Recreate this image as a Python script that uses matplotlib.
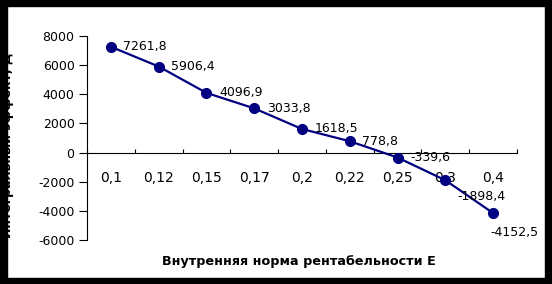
import matplotlib
matplotlib.use("Agg")
import matplotlib.pyplot as plt
from matplotlib.patches import Rectangle
import numpy as np

categories = ["0,1", "0,12", "0,15", "0,17", "0,2", "0,22", "0,25", "0,3", "0,4"]
values = [7261.8, 5906.4, 4096.9, 3033.8, 1618.5, 778.8, -339.6, -1898.4, -4152.5]
labels = ["7261,8", "5906,4", "4096,9", "3033,8", "1618,5", "778,8", "-339,6", "-1898,4", "-4152,5"]
yticks = [-6000, -4000, -2000, 0, 2000, 4000, 6000, 8000]

plt.rcParams['font.family'] = ['DejaVu Sans']

W, H = 552, 284
fig = plt.figure(figsize=(W / 100, H / 100), dpi=100)
ax = fig.add_axes([87 / W, 1 - 240 / H, (517 - 87) / W, (240 - 36) / H])

x = np.arange(len(categories))
ax.plot(x, values, color="#000080", lw=1.6, marker="o", ms=7,
        markerfacecolor="#000080", markeredgecolor="#000080", zorder=3, clip_on=False)

ax.set_xlim(-0.5, len(categories) - 0.5)
ax.set_ylim(-6000, 8000)
ax.set_yticks(yticks)
ax.set_yticklabels([str(v) for v in yticks], fontsize=9)
ax.tick_params(axis='y', length=6, width=0.8, pad=3, direction='out')

ax.set_xticks(x)
ax.set_xticklabels(categories, fontsize=9)
ax.set_xticks(np.arange(-0.5, len(categories)), minor=True)
ax.tick_params(axis='x', which='major', length=0, pad=13)
ax.tick_params(axis='x', which='minor', length=3, width=0.8, direction='in')

for s in ['top', 'right']:
    ax.spines[s].set_visible(False)
ax.spines['bottom'].set_position(('data', 0))
ax.spines['left'].set_linewidth(0.8)
ax.spines['bottom'].set_linewidth(0.8)

offsets = [(9, 0), (9, 0), (9, 0), (9, 0), (9, 0), (9, 0), (9, 0), (9, -12), (-2, -14)]
for i, (v, lab) in enumerate(zip(values, labels)):
    dx, dy = offsets[i]
    ax.annotate(lab, (x[i], v), xytext=(dx, dy), textcoords='offset points',
                ha='left', va='center', fontsize=9, color='black', annotation_clip=False)

fig.text(299 / W, 1 - 262 / H, "Внутренняя норма рентабельности Е", ha='center', va='center',
         fontsize=9.2, fontweight='bold')
fig.text(8 / W, 1 - 145 / H, "Интегральный эффект, Д", ha='center', va='center',
         rotation=90, fontsize=9, fontweight='bold')

# black frame
for (x0, y0, w, h) in [(0, 0, 7, H), (0, 0, W, 6), (545, 0, 7, H), (0, 278, W, 6)]:
    fig.patches.append(Rectangle((x0 / W, 1 - (y0 + h) / H), w / W, h / H,
                                 transform=fig.transFigure, color='black', zorder=10))

fig.savefig("out.png", dpi=100)
